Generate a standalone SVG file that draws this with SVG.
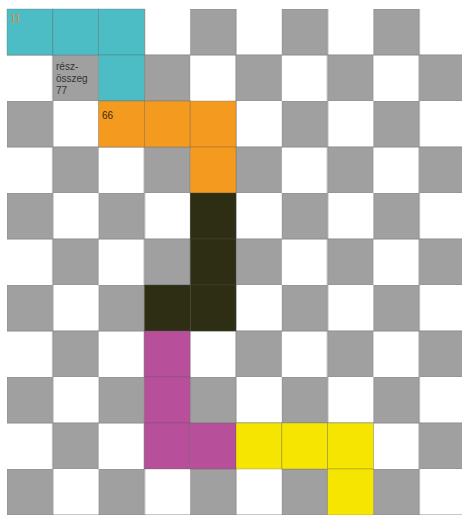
<svg xmlns="http://www.w3.org/2000/svg" width="462" height="515" viewBox="0 0 462 515">
<style>
.c{stroke:#555;stroke-opacity:0.35;stroke-width:0.8}
.cy{fill:#4cbdc4}
.or{fill:#f49a1f}
.dk{fill:#2e2e14}
.mg{fill:#b74f9b}
.ye{fill:#f5e500}
text{font-family:"Liberation Sans",Arial,sans-serif;font-size:10px}
</style>
<defs>
<pattern id="chk" patternUnits="userSpaceOnUse" x="7" y="9" width="91.6" height="92">
<rect x="0" y="0" width="91.6" height="92" fill="#fff"/>
<rect x="0" y="0" width="45.8" height="46" fill="#a0a0a0" stroke="#8e8e8e" stroke-width="1"/>
<rect x="45.8" y="46" width="45.8" height="46" fill="#a0a0a0" stroke="#8e8e8e" stroke-width="1"/>
</pattern>
</defs>
<rect width="462" height="515" fill="#fff"/>
<rect x="7" y="9" width="460" height="506" fill="url(#chk)"/>
<g id="cyan">
<rect class="cy c" x="7" y="9" width="45.8" height="46"/>
<rect class="cy c" x="52.8" y="9" width="45.8" height="46"/>
<rect class="cy c" x="98.6" y="9" width="45.8" height="46"/>
<rect class="cy c" x="98.6" y="55" width="45.8" height="46"/>
<text x="10" y="22" fill="#e0893c">11</text>
</g>
<g id="partial-sum">
<text x="56" y="70" fill="#333">rész-</text>
<text x="56" y="82" fill="#333">összeg</text>
<text x="56" y="94" fill="#333">77</text>
</g>
<g id="orange">
<rect class="or c" x="98.6" y="101" width="45.8" height="46"/>
<rect class="or c" x="144.4" y="101" width="45.8" height="46"/>
<rect class="or c" x="190.2" y="101" width="45.8" height="46"/>
<rect class="or c" x="190.2" y="147" width="45.8" height="46"/>
<text x="102" y="119" fill="#3a2a10">66</text>
</g>
<g id="dark">
<rect class="dk c" x="190.2" y="193" width="45.8" height="46"/>
<rect class="dk c" x="190.2" y="239" width="45.8" height="46"/>
<rect class="dk c" x="190.2" y="285" width="45.8" height="46"/>
<rect class="dk c" x="144.4" y="285" width="45.8" height="46"/>
</g>
<g id="magenta">
<rect class="mg c" x="144.4" y="331" width="45.8" height="46"/>
<rect class="mg c" x="144.4" y="377" width="45.8" height="46"/>
<rect class="mg c" x="144.4" y="423" width="45.8" height="46"/>
<rect class="mg c" x="190.2" y="423" width="45.8" height="46"/>
</g>
<g id="yellow">
<rect class="ye c" x="236" y="423" width="45.8" height="46"/>
<rect class="ye c" x="281.8" y="423" width="45.8" height="46"/>
<rect class="ye c" x="327.6" y="423" width="45.8" height="46"/>
<rect class="ye c" x="327.6" y="469" width="45.8" height="46"/>
</g>
<g id="connectors"/>
</svg>
